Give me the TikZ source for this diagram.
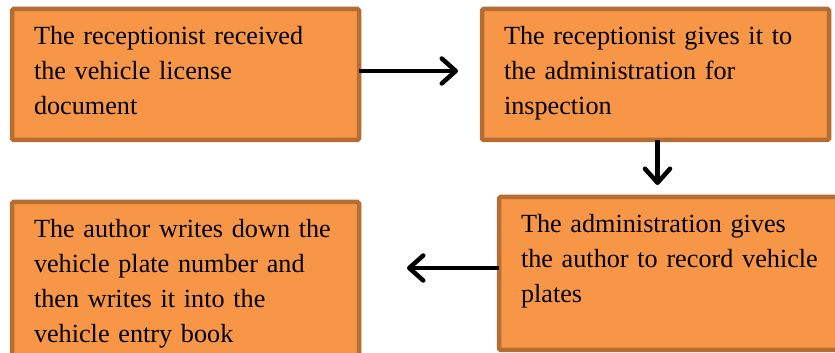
\documentclass[tikz,border=0pt]{standalone}
\usepackage{fontspec}
\setmainfont{Liberation Serif}
\usetikzlibrary{arrows.meta, positioning}
\definecolor{boxFill}{HTML}{F79646}
\definecolor{boxLine}{HTML}{B66D31}
\tikzstyle{stepNode} = [rectangle, draw=boxLine, fill=boxFill, line width=4.5pt, rounded corners=1.5pt, outer sep=0pt, inner xsep=22pt, inner ysep=16pt, text width=303pt, align=left, text height=20pt, text depth=79pt, font=\fontsize{26.2}{35}\selectfont]
\tikzstyle{arrowK} = [line width=4.5pt, draw=black, -{Straight Barb[length=14pt, width=25pt, round]}]

\begin{document}
\begin{tikzpicture}[x=1pt, y=1pt]
    \useasboundingbox (0,0) rectangle (835,353);
    \node (recv) [stepNode, anchor=north west] at (12,344) {The receptionist received\\the vehicle license\\document};
    \node (admin) [stepNode, right=123pt of recv] {The receptionist gives it to\\the administration for\\inspection};
    \node (record) [stepNode, below=57pt of admin.south west, anchor=north west, xshift=17pt, text width=307pt, text depth=101pt] {The administration gives\\the author to record vehicle\\plates};
    \node (author) [stepNode, below=62pt of recv.south west, anchor=north west, text depth=116pt] {The author writes down the\\vehicle plate number and\\then writes it into the\\vehicle entry book};

    \draw [arrowK, shorten >=24pt] ([yshift=3.5pt]recv.east) -- ([yshift=3.5pt]admin.west);
    \draw [arrowK, shorten >=12pt] ([xshift=2pt]admin.south) -- ([xshift=2pt]admin.south |- record.north);
    \draw [arrowK, shorten >=48pt] ([yshift=5.5pt]record.west) -- ([yshift=5.5pt]record.west -| author.east);
\end{tikzpicture}
\end{document}
